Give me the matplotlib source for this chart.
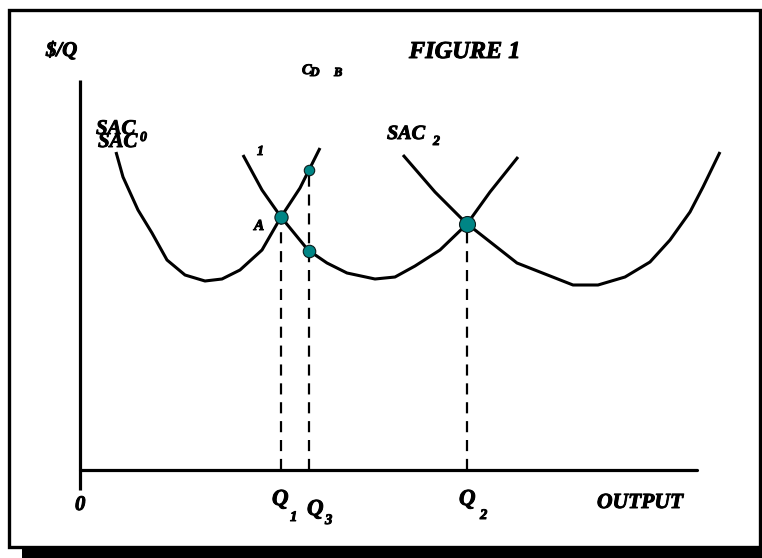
import numpy as np
import matplotlib
matplotlib.use("Agg")
import matplotlib.pyplot as plt
import matplotlib.patheffects as pe
from matplotlib.patches import Rectangle

# Short-run average cost curves (output, $/Q)
sac0_q = [3.6, 4.3, 5.8, 7.2, 8.7, 10.5, 12.5, 14.2, 16.0, 18.2, 20.1, 22.0, 24.0]
sac0_c = [31.8, 29.3, 26.0, 23.7, 21.0, 19.5, 18.9, 19.1, 20.0, 22.0, 25.3, 28.2, 32.2]

sac1_q = [16.3, 18.2, 20.1, 22.8, 24.7, 26.7, 29.5, 31.5, 33.5, 36.0, 38.7, 41.0, 43.8]
sac1_c = [31.5, 28.0, 25.3, 22.0, 20.7, 19.7, 19.1, 19.3, 20.4, 22.0, 24.6, 27.8, 31.3]

sac2_q = [32.3, 35.5, 38.7, 39.5, 43.7, 49.3, 51.8, 54.5, 57.0, 59.0, 61.0, 62.3, 64.0]
sac2_c = [31.5, 27.8, 24.6, 24.0, 20.7, 18.5, 18.5, 19.3, 20.8, 23.0, 25.8, 28.3, 31.8]

# Output levels marked on the horizontal axis
Q1 = 20.1
Q3 = 22.9
Q2 = 38.7

W, H = 762, 558
fig = plt.figure(figsize=(W / 100, H / 100), dpi=100)
ax = fig.add_axes([0, 0, 1, 1])
ax.set_xlim(-8.0, 68.2)
ax.set_ylim(-8.8, 47.0)
ax.axis("off")

font = dict(family=["Liberation Serif", "DejaVu Serif"], weight="bold", style="italic")
heavy = [pe.withStroke(linewidth=0.7, foreground="black")]

def ftext(x, y, s, size, **kw):
    fig.text(x / W, 1 - y / H, s, fontsize=size, ha="left", va="baseline",
             path_effects=heavy, **font, **kw)

# Outer frame with drop shadow
fig.patches.append(Rectangle((9 / W, 1 - 547 / H), 751 / W, 537 / H, transform=fig.transFigure,
                             fill=False, edgecolor="black", linewidth=2.4))
fig.patches.append(Rectangle((22 / W, 0), 740 / W, 10 / H, transform=fig.transFigure,
                             facecolor="black", edgecolor="none"))

# Axes
ax.plot([0, 0], [-2.0, 39.0], color="black", lw=2.3, solid_capstyle="butt")
ax.plot([0, 61.7], [0, 0], color="black", lw=2.3, solid_capstyle="round")

curve = dict(color="black", lw=2.2, solid_joinstyle="round", solid_capstyle="butt")
ax.plot(sac0_q, sac0_c, **curve)
ax.plot(sac1_q, sac1_c, **curve)
ax.plot(sac2_q, sac2_c, **curve)

# Points on the curves
cA = np.interp(Q1, sac0_q, sac0_c)
c3_hi = np.interp(Q3, sac0_q, sac0_c)
c3_lo = np.interp(Q3, sac1_q, sac1_c)
cB = np.interp(Q2, sac1_q, sac1_c)

dash = dict(color="black", lw=1.6, linestyle=(0, (5, 3.5)))
ax.plot([Q1, Q1], [0, cA], **dash)
ax.plot([Q3, Q3], [0, c3_hi], **dash)
ax.plot([Q2, Q2], [0, cB], **dash)

dot = dict(color="#008585", markeredgecolor="#0a1a1a", markeredgewidth=0.8, zorder=5, linestyle="none")
ax.plot([Q1], [cA], marker="o", markersize=9.5, **dot)
ax.plot([Q3], [c3_hi], marker="o", markersize=7.5, **dot)
ax.plot([Q3], [c3_lo], marker="o", markersize=9, **dot)
ax.plot([Q2], [cB], marker="o", markersize=11.5, **dot)

# Labels
ftext(46, 56, "$/Q", 15)
ftext(409, 58, "FIGURE 1", 17.5)
ftext(302, 74, "C", 10.5)
ftext(310, 76, "D", 9.5)
ftext(334, 76, "B", 9)

ftext(96, 134, "SAC", 15)
ftext(98, 147, "SAC", 15)
ftext(140, 141, "0", 10)
ftext(257, 155, "1", 10)
ftext(254, 230, "A", 11)
ftext(387, 139, "SAC", 14.5)
ftext(433, 145, "2", 10)

ftext(75, 510, "0", 15)
ftext(272, 505, "Q", 16.5)
ftext(290, 521, "1", 10.5)
ftext(307, 515, "Q", 16.5)
ftext(325, 524, "3", 10.5)
ftext(459, 505, "Q", 16.5)
ftext(480, 519, "2", 10.5)
ftext(597, 508, "OUTPUT", 15.5)

fig.savefig("out.png", dpi=100, facecolor="white")
